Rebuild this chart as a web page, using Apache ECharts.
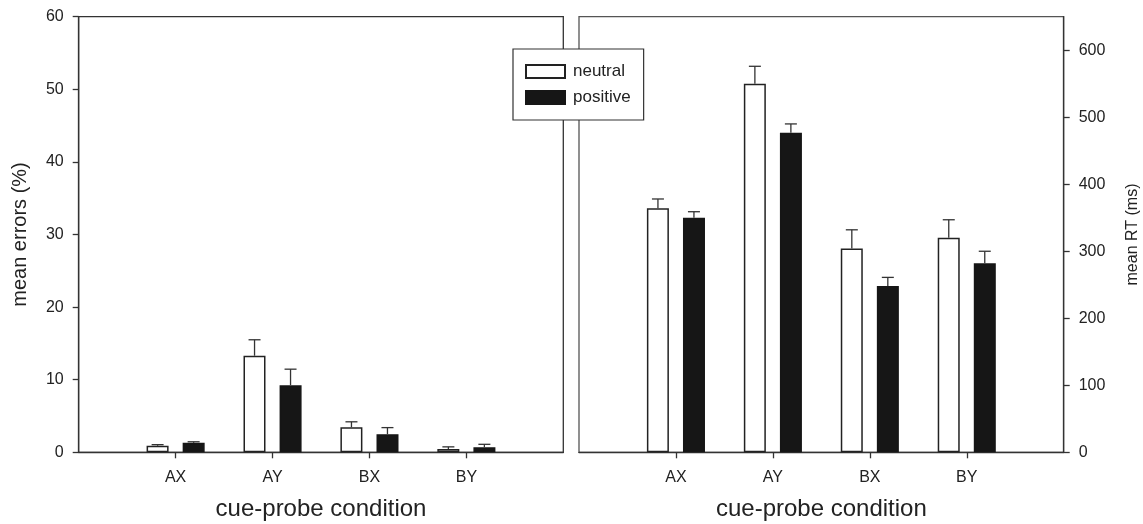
<!DOCTYPE html>
<html>
<head>
<meta charset="utf-8">
<script src="https://cdn.jsdelivr.net/npm/echarts@6/dist/echarts.min.js"></script>
<style>
html, body { margin: 0; padding: 0; background: #fff; }
#main { width: 1143px; height: 524px; }
</style>
</head>
<body>
<div id="main"></div>
<script>
// categories on both panels
var categories = ['AX', 'AY', 'BX', 'BY'];

// left panel: mean errors (%) and standard errors
var errNeutral = [0.9, 13.3, 3.45, 0.45];
var errNeutralSE = [0.15, 2.2, 0.75, 0.3];
var errPositive = [1.3, 9.25, 2.5, 0.7];
var errPositiveSE = [0.15, 2.2, 0.9, 0.4];

// right panel: mean RT (ms) and standard errors
var rtNeutral = [364, 550, 304, 320];
var rtNeutralSE = [14, 26, 28, 27];
var rtPositive = [350, 477, 248, 282];
var rtPositiveSE = [9, 13, 13, 18];

var rtTicks = [0, 100, 200, 300, 400, 500, 600];

var myChart = echarts.init(document.getElementById('main'));

var FONT = 'Liberation Sans, Arial, sans-serif';
var LINE = '#333';
var TEXT = '#222';

// padded category list so the groups sit at 1/5 .. 4/5 of the width
var xCats = [''].concat(categories, [' ']);

function barData(vals) {
    return vals.map(function (v, i) { return [i + 1, v]; });
}
function errData(vals, se) {
    return vals.map(function (v, i) { return [i + 1, v, v + se[i]]; });
}

// upper error bar with a cap, shifted to the bar's slot
function errorRenderer(offset) {
    return function (params, api) {
        var x = api.value(0);
        var base = api.coord([x, api.value(1)]);
        var top = api.coord([x, api.value(2)]);
        var cx = base[0] + offset;
        var st = { stroke: LINE, lineWidth: 1.3 };
        return {
            type: 'group',
            children: [
                { type: 'line', shape: { x1: cx, y1: base[1], x2: cx, y2: top[1] }, style: st },
                { type: 'line', shape: { x1: cx - 6, y1: top[1], x2: cx + 6, y2: top[1] }, style: st }
            ]
        };
    };
}

function xAxisFor(idx) {
    return {
        type: 'category',
        gridIndex: idx,
        data: xCats,
        boundaryGap: false,
        name: 'cue-probe condition',
        nameLocation: 'middle',
        nameGap: 45,
        nameTextStyle: { fontSize: 24, color: TEXT, fontFamily: FONT },
        axisLine: { lineStyle: { color: LINE, width: 1.3 } },
        axisTick: {
            interval: function (i) { return i > 0 && i < 5; },
            length: 6,
            lineStyle: { color: LINE, width: 1.3 }
        },
        axisLabel: { interval: 0, margin: 17, fontSize: 16, color: TEXT, fontFamily: FONT },
        splitLine: { show: false }
    };
}

var neutralStyle = { color: '#fff', borderColor: '#222', borderWidth: 1.5 };
var positiveStyle = { color: '#161616', borderColor: '#161616', borderWidth: 1.5 };

function barSeries(name, vals, idx, style) {
    return {
        name: name,
        type: 'bar',
        xAxisIndex: idx,
        yAxisIndex: idx,
        data: barData(vals),
        barWidth: 22,
        barGap: '64%',
        itemStyle: style,
        emphasis: { disabled: true },
        animation: false
    };
}
function errSeries(vals, se, idx, offset) {
    return {
        type: 'custom',
        xAxisIndex: idx,
        yAxisIndex: idx,
        data: errData(vals, se),
        encode: { x: 0, y: [1, 2] },
        renderItem: errorRenderer(offset),
        z: 3,
        silent: true,
        animation: false
    };
}

var option = {
    backgroundColor: '#fff',
    animation: false,
    textStyle: { fontFamily: FONT },
    legend: {
        data: ['neutral', 'positive'],
        orient: 'vertical',
        left: 513,
        top: 49,
        padding: [14, 13, 14, 12],
        itemWidth: 39,
        itemHeight: 13,
        itemGap: 9,
        backgroundColor: '#fff',
        borderColor: LINE,
        borderWidth: 1.2,
        borderRadius: 0,
        icon: 'rect',
        selectedMode: false,
        textStyle: { fontSize: 17, color: TEXT, fontFamily: FONT, padding: [0, 0, 0, 3] },
        z: 10
    },
    grid: [
        { left: 78.7, right: 579.7, top: 16.7, bottom: 71.7, outerBoundsMode: 'none',
          show: true, borderColor: LINE, borderWidth: 1.3 },
        { left: 579, right: 79.3, top: 16.7, bottom: 71.7, outerBoundsMode: 'none',
          show: true, borderColor: '#555', borderWidth: 1.3 }
    ],
    xAxis: [xAxisFor(0), xAxisFor(1)],
    yAxis: [
        {
            type: 'value',
            gridIndex: 0,
            min: 0,
            max: 60,
            interval: 10,
            name: 'mean errors (%)',
            nameLocation: 'middle',
            nameRotate: 90,
            nameGap: 48,
            nameTextStyle: { fontSize: 20, color: TEXT, fontFamily: FONT },
            axisLine: { show: true, lineStyle: { color: LINE, width: 1.3 } },
            axisTick: { show: true, length: 6, lineStyle: { color: LINE, width: 1.3 } },
            axisLabel: { margin: 15, fontSize: 16, color: TEXT, fontFamily: FONT },
            splitLine: { show: false }
        },
        {
            type: 'value',
            gridIndex: 1,
            position: 'right',
            min: 0,
            max: 650,
            name: 'mean RT (ms)',
            nameLocation: 'middle',
            nameRotate: 90,
            nameGap: 61,
            nameTextStyle: { fontSize: 16, color: TEXT, fontFamily: FONT },
            axisLine: { show: true, lineStyle: { color: LINE, width: 1.3 } },
            axisTick: { show: true, length: 6, customValues: rtTicks, lineStyle: { color: LINE, width: 1.3 } },
            axisLabel: { margin: 15, fontSize: 16, color: TEXT, fontFamily: FONT, customValues: rtTicks },
            splitLine: { show: false }
        }
    ],
    series: [
        barSeries('neutral', errNeutral, 0, neutralStyle),
        barSeries('positive', errPositive, 0, positiveStyle),
        errSeries(errNeutral, errNeutralSE, 0, -18),
        errSeries(errPositive, errPositiveSE, 0, 18),
        barSeries('neutral', rtNeutral, 1, neutralStyle),
        barSeries('positive', rtPositive, 1, positiveStyle),
        errSeries(rtNeutral, rtNeutralSE, 1, -18),
        errSeries(rtPositive, rtPositiveSE, 1, 18)
    ]
};

myChart.setOption(option);
</script>
</body>
</html>
